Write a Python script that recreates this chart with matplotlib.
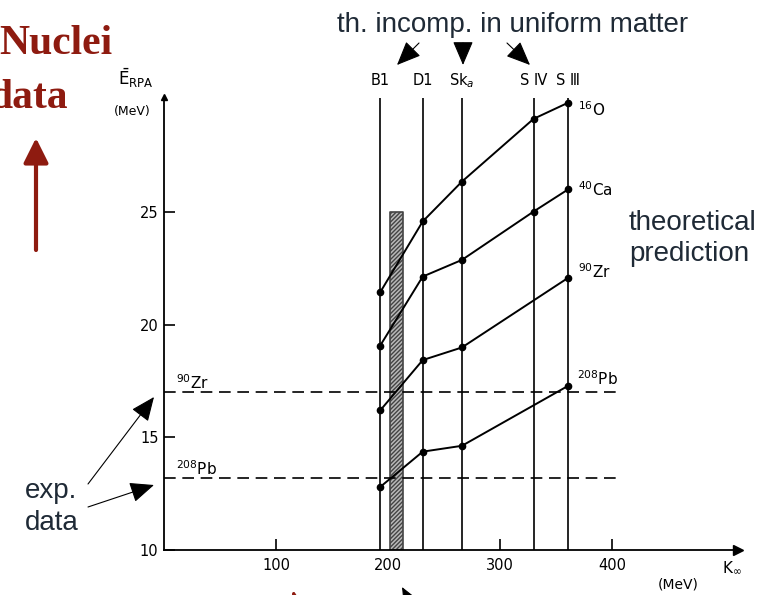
import matplotlib.pyplot as plt

W, H = 776, 595

# Skyrme / Gogny forces and their K_inf (MeV)
forces = ["B1", "D1", "Sk$_a$", "S Ⅳ", "S Ⅲ"]
k_inf = [193, 231, 266, 330, 361]

# RPA monopole energies (MeV)
k_o16 = [193, 231, 266, 330, 361]
e_o16 = [21.45, 24.6, 26.37, 29.16, 29.88]
k_ca40 = [193, 231, 266, 330, 361]
e_ca40 = [19.08, 22.15, 22.89, 25.04, 26.03]
k_zr90 = [193, 231, 266, 361]
e_zr90 = [16.2, 18.44, 19.0, 22.1]
k_pb208 = [193, 231, 266, 361]
e_pb208 = [12.8, 14.37, 14.63, 17.3]
nuclei = ["$^{16}$O", "$^{40}$Ca", "$^{90}$Zr", "$^{208}$Pb"]

# experimental values
exp_labels = ["$^{90}$Zr", "$^{208}$Pb"]
exp_values = [17.0, 13.2]
exp_kmax = 407

# shaded band of K_inf
band_k = [202, 213]
band_top = 25

x_ticks = [100, 200, 300, 400]
y_ticks = [10, 15, 20, 25]

dark = "#1f2a36"
red = "#8e1b10"

fig = plt.figure(figsize=(W / 100, H / 100), dpi=100)
ax = fig.add_axes([164 / W, 45 / H, 574 / W, 453 / H])
ax.set_xlim(0, 512.5)
ax.set_ylim(10, 30.13)
ax.patch.set_alpha(0)

for s in ["top", "right"]:
    ax.spines[s].set_visible(False)
for s in ["left", "bottom"]:
    ax.spines[s].set_linewidth(1.3)
ax.plot(1, 0, ">k", transform=ax.transAxes, clip_on=False, markersize=7)
ax.plot(0, 1, "^k", transform=ax.transAxes, clip_on=False, markersize=5)

ax.set_xticks(x_ticks)
ax.set_yticks(y_ticks)
ax.tick_params(direction="in", length=8, width=1.2, labelsize=10.5)
ax.tick_params(axis="x", pad=6)
ax.tick_params(axis="y", pad=4)
# the 200 tick is hidden under the band in the original
ax.xaxis.get_major_ticks()[1].tick1line.set_visible(False)

# =====================================================
# band, force lines, experimental lines
# =====================================================

ax.fill_between(band_k, 10, band_top, facecolor="#b8b8b8", edgecolor="#444444",
                hatch="////////", linewidth=1.2, zorder=1.5)

ax.vlines(k_inf, 10, 30.1, colors="k", linewidth=1.2)
for k, f in zip(k_inf, forces):
    ax.text(k, 30.85, f, ha="center", va="center", fontsize=10.5, clip_on=False)

ax.hlines(exp_values, 0, exp_kmax, colors="k", linewidth=1.2,
          linestyles=(0, (7, 4)))
for lab, v in zip(exp_labels, exp_values):
    ax.text(11, v + 0.15, lab, ha="left", va="baseline", fontsize=11)

# =====================================================
# RPA curves
# =====================================================

curves = [(k_o16, e_o16), (k_ca40, e_ca40), (k_zr90, e_zr90), (k_pb208, e_pb208)]
label_offsets = [(7, -5), (7, 0), (7, 4), (6, 5)]
for (k, e), lab, off in zip(curves, nuclei, label_offsets):
    ax.plot(k, e, "-", color="k", linewidth=1.4, marker="o", markersize=4.5)
    ax.annotate(lab, xy=(k[-1], e[-1]), xytext=off, textcoords="offset points",
                ha="left", va="center", fontsize=11, annotation_clip=False)

# axis labels
fig.text(118 / W, 1 - 78 / H, r"$\bar{\mathrm{E}}_{\mathrm{RPA}}$", fontsize=12,
         ha="left", va="center")
fig.text(132 / W, 1 - 111 / H, "(MeV)", fontsize=9, ha="center", va="center")
fig.text(722 / W, 1 - 568 / H, r"K$_\infty$", fontsize=11, ha="left", va="center")
fig.text(678 / W, 1 - 584 / H, "(MeV)", fontsize=10, ha="center", va="center")

# =====================================================
# slide annotations
# =====================================================

fig.text(513 / W, 1 - 32 / H, "th. incomp. in uniform matter", fontsize=20,
         family="Liberation Sans", ha="center", va="baseline", color=dark)
fig.text(629 / W, 1 - 230 / H, "theoretical", fontsize=20,
         family="Liberation Sans", ha="left", va="baseline", color=dark)
fig.text(629 / W, 1 - 261 / H, "prediction", fontsize=20,
         family="Liberation Sans", ha="left", va="baseline", color=dark)
fig.text(25 / W, 1 - 498 / H, "exp.", fontsize=20,
         family="Liberation Sans", ha="left", va="baseline", color=dark)
fig.text(25 / W, 1 - 530 / H, "data", fontsize=20,
         family="Liberation Sans", ha="left", va="baseline", color=dark)
fig.text(112 / W, 1 - 54 / H, "Nuclei", fontsize=30, family="Liberation Serif",
         weight="bold", ha="right", va="baseline", color=red)
fig.text(68 / W, 1 - 108 / H, "data", fontsize=30, family="Liberation Serif",
         weight="bold", ha="right", va="baseline", color=red)


def arrow(x0, y0, x1, y1, color="k", lw=0.8, style="-|>,head_length=0.75,head_width=0.32",
          scale=20):
    ax.annotate("", xy=(x1, H - y1), xytext=(x0, H - y0), xycoords="figure pixels",
                textcoords="figure pixels", annotation_clip=False,
                arrowprops=dict(arrowstyle=style, color=color, lw=lw,
                                shrinkA=0, shrinkB=0, mutation_scale=scale))


arrow(419, 43, 397, 65)
arrow(463, 43, 463, 65)
arrow(507, 43, 530, 65)
arrow(88, 484, 154, 397)
arrow(88, 507, 154, 485)
arrow(36, 250, 36, 138, color=red, lw=3,
      style="-|>,head_length=1.0,head_width=0.5", scale=15)
arrow(300, 625, 293, 590, color=red, lw=2)
arrow(420, 620, 402, 587)

fig.savefig("out.png", dpi=100)
